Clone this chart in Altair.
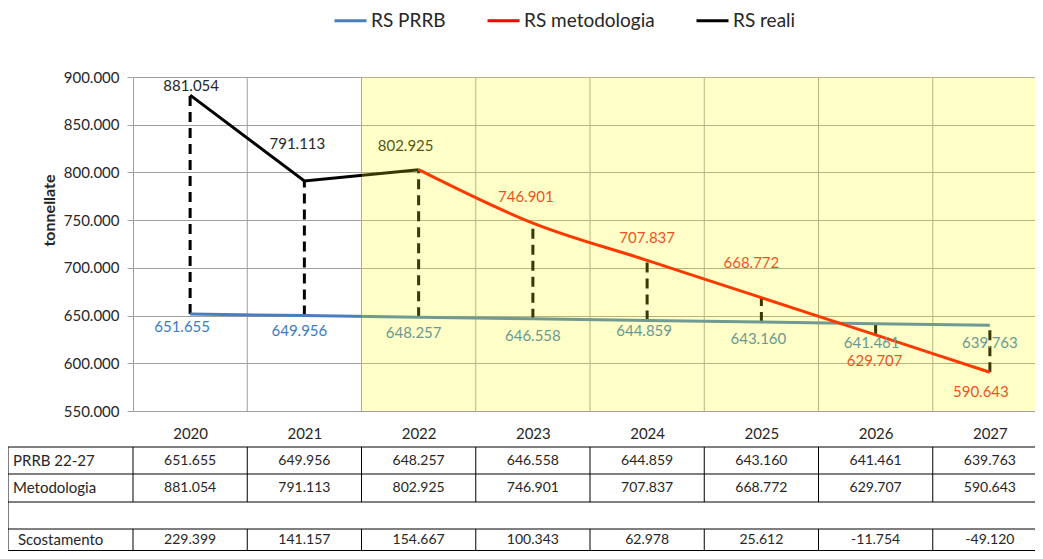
import altair as alt
import pandas as pd

# ---------------- data ----------------
years = [2020, 2021, 2022, 2023, 2024, 2025, 2026, 2027]
prrb = [651655, 649956, 648257, 646558, 644859, 643160, 641461, 639763]
metodologia = [881054, 791113, 802925, 746901, 707837, 668772, 629707, 590643]
scostamento = [229399, 141157, 154667, 100343, 62978, 25612, -11754, -49120]
reali_years = [2020, 2021, 2022]
metodologia_years = [2022, 2023, 2024, 2025, 2026, 2027]
shaded_period = [2022, 2027]
series_names = ["RS PRRB", "RS metodologia", "RS reali"]
table_rows = ["PRRB 22-27", "Metodologia", "Scostamento"]
y_ticks = [550000, 600000, 650000, 700000, 750000, 800000, 850000, 900000]

# ---------------- layout / style ----------------
W, H = 902, 334          # plot area; the last column runs past the window edge
STEP = 114.25            # px per year, as in the reference
FONT = "Lato"
GRID = "#a0a0a0"
TEXT = "#262626"
BLUE = "#4a7ebb"
RED = "#ff0000"
BLACK = "#000000"
BLUE_LABEL = "#3a7cc2"
RED_LABEL = "#ee1c30"
BLACK_LABEL = "#262626"
LABEL_SIZE = 15
TABLE_SIZE = 14
ROWLABEL_SIZE = 15

# label nudges (dx, dy) in px for each data label
NUDGE = {
    "RS reali": {2020: (1, -9), 2021: (-7, -37), 2022: (-13, -24)},
    "RS metodologia": {2023: (-7, -26), 2024: (0, -22), 2025: (-10, -35),
                       2026: (-1, 26), 2027: (-9, 20)},
    "RS PRRB": {2020: (-8, 13.5), 2021: (-5, 15.5), 2022: (-5, 16), 2023: (0, 17),
                2024: (-3, 11), 2025: (-3, 17), 2026: (-4, 19.5), 2027: (0, 18)},
}

# table geometry (px, relative to plot top-left)
T_LINES = [370, 397, 425, 452, 473.5]
T_ROW_Y = [383.5, 411, 463]
T_ROW_X = [-120, -120, -115]
T_VSEGS = [(370, 425), (452, 473.5)]
T_LEFT = -125
T_RIGHT = W

# ---------------- frames ----------------
met_map = dict(zip(years, metodologia))
prrb_df = pd.DataFrame({"year": years, "value": prrb, "series": "RS PRRB"})
reali_df = pd.DataFrame({"year": reali_years,
                         "value": [met_map[y] for y in reali_years],
                         "series": "RS reali"})
metod_df = pd.DataFrame({"year": metodologia_years,
                         "value": [met_map[y] for y in metodologia_years],
                         "series": "RS metodologia"})
range_df = pd.DataFrame({"year": years,
                         "value": [min(a, b) for a, b in zip(prrb, metodologia)],
                         "value2": [max(a, b) for a, b in zip(prrb, metodologia)]})
bound_df = pd.DataFrame({"year": [y + 0.5 for y in years[:-1]]})
tbound_df = pd.DataFrame({"year": [years[0] - 0.5] + [y + 0.5 for y in years[:-1]]})
shade_df = pd.DataFrame({"year": [shaded_period[0] - 0.5], "year2": [shaded_period[1] + 0.5]})
dummy = pd.DataFrame({"k": [0]})
table_frames = [pd.DataFrame({"year": years, "value": v}) for v in (prrb, metodologia, scostamento)]

# ---------------- encodings ----------------
x_min = years[0] - 0.5
x_scale = alt.Scale(domain=[x_min, x_min + W / STEP], nice=False, zero=False)
x_axis = alt.Axis(values=years, format="d", ticks=False, grid=False, domainColor=GRID,
                  labelFont=FONT, labelFontSize=15, labelColor=TEXT, labelPadding=15,
                  title=None)
y_scale = alt.Scale(domain=[y_ticks[0], y_ticks[-1]], nice=False, zero=False)
y_axis = alt.Axis(values=y_ticks, format=",.0f", grid=True, gridColor=GRID, gridWidth=1,
                  domainColor=GRID, tickColor=GRID, tickSize=6, labelPadding=8,
                  labelFont=FONT, labelFontSize=15, labelColor=TEXT,
                  title="tonnellate", titleFont=FONT, titleFontSize=16,
                  titleFontWeight="bold", titleColor=TEXT, titleX=-84, titleY=133,
                  titleAlign="center", titleBaseline="middle")


def X():
    return alt.X("year:Q", scale=x_scale, axis=x_axis)


def Y():
    return alt.Y("value:Q", scale=y_scale, axis=y_axis)


legend = alt.Legend(orient="none", legendX=200, legendY=-74, direction="horizontal",
                    title=None, labelFont=FONT, labelFontSize=19, labelColor=TEXT,
                    symbolType="stroke", symbolStrokeWidth=3, symbolSize=1024,
                    columnPadding=35, labelOffset=3)
color = alt.Color("series:N", scale=alt.Scale(domain=series_names, range=[BLUE, RED, BLACK]),
                  legend=legend)

# ---------------- layers ----------------
layers = []

layers.append(alt.Chart(bound_df).mark_rule(color=GRID, strokeWidth=1).encode(x=X()))

layers.append(alt.Chart(range_df).mark_rule(color=BLACK, strokeWidth=3, strokeDash=[10, 6])
              .encode(x=X(), y=Y(), y2="value2:Q"))

layers.append(alt.Chart(pd.concat([prrb_df, reali_df])).mark_line(strokeWidth=3)
              .encode(x=X(), y=Y(), color=color))
layers.append(alt.Chart(metod_df).mark_line(strokeWidth=3, interpolate="monotone")
              .encode(x=X(), y=Y(), color=color))

label_colors = {"RS PRRB": BLUE_LABEL, "RS metodologia": RED_LABEL, "RS reali": BLACK_LABEL}
label_frames = {"RS PRRB": prrb_df, "RS metodologia": metod_df, "RS reali": reali_df}
for s in series_names:
    for yr, (dx, dy) in NUDGE[s].items():
        layers.append(
            alt.Chart(label_frames[s]).transform_filter(alt.datum.year == yr)
            .mark_text(font=FONT, fontSize=LABEL_SIZE, color=label_colors[s],
                       dx=dx, dy=dy, baseline="middle", align="center")
            .encode(x=X(), y=Y(), text=alt.Text("value:Q", format=",.0f"))
        )

# highlighted period overlay
layers.append(alt.Chart(shade_df).mark_rect(color="#ffff00", opacity=0.22)
              .encode(x=X(), x2="year2:Q", y=alt.value(0), y2=alt.value(H)))

# ---------------- table ----------------
for top, bot in T_VSEGS:
    layers.append(alt.Chart(tbound_df).mark_rule(color=BLACK, strokeWidth=1)
                  .encode(x=X(), y=alt.value(top), y2=alt.value(bot)))
for ly in T_LINES:
    layers.append(alt.Chart(dummy).mark_rule(color=BLACK, strokeWidth=1)
                  .encode(x=alt.value(T_LEFT), x2=alt.value(T_RIGHT), y=alt.value(ly)))
layers.append(alt.Chart(dummy).mark_rule(color=BLACK, strokeWidth=1)
              .encode(x=alt.value(T_LEFT), y=alt.value(T_LINES[0]), y2=alt.value(T_LINES[-1])))

for i, frame in enumerate(table_frames):
    layers.append(alt.Chart(frame).mark_text(font=FONT, fontSize=TABLE_SIZE, color=TEXT,
                                             baseline="middle", align="center")
                  .encode(x=X(), y=alt.value(T_ROW_Y[i]),
                          text=alt.Text("value:Q", format=",.0f")))
    layers.append(alt.Chart(dummy).mark_text(font=FONT, fontSize=ROWLABEL_SIZE, color=TEXT,
                                             baseline="middle", align="left")
                  .encode(x=alt.value(T_ROW_X[i]), y=alt.value(T_ROW_Y[i]),
                          text=alt.value(table_rows[i])))

chart = (
    alt.layer(*layers)
    .properties(width=W, height=H, autosize=alt.AutoSizeParams(type="none"),
                padding={"left": 125, "top": 69, "right": 0, "bottom": 140})
    .configure(font=FONT,
               locale={"number": {"decimal": ",", "thousands": ".", "grouping": [3],
                                  "currency": ["€", ""], "minus": "-"}})
    .configure_view(strokeWidth=0)
)

chart.save("out.html", embed_options={"renderer": "svg", "actions": False})
